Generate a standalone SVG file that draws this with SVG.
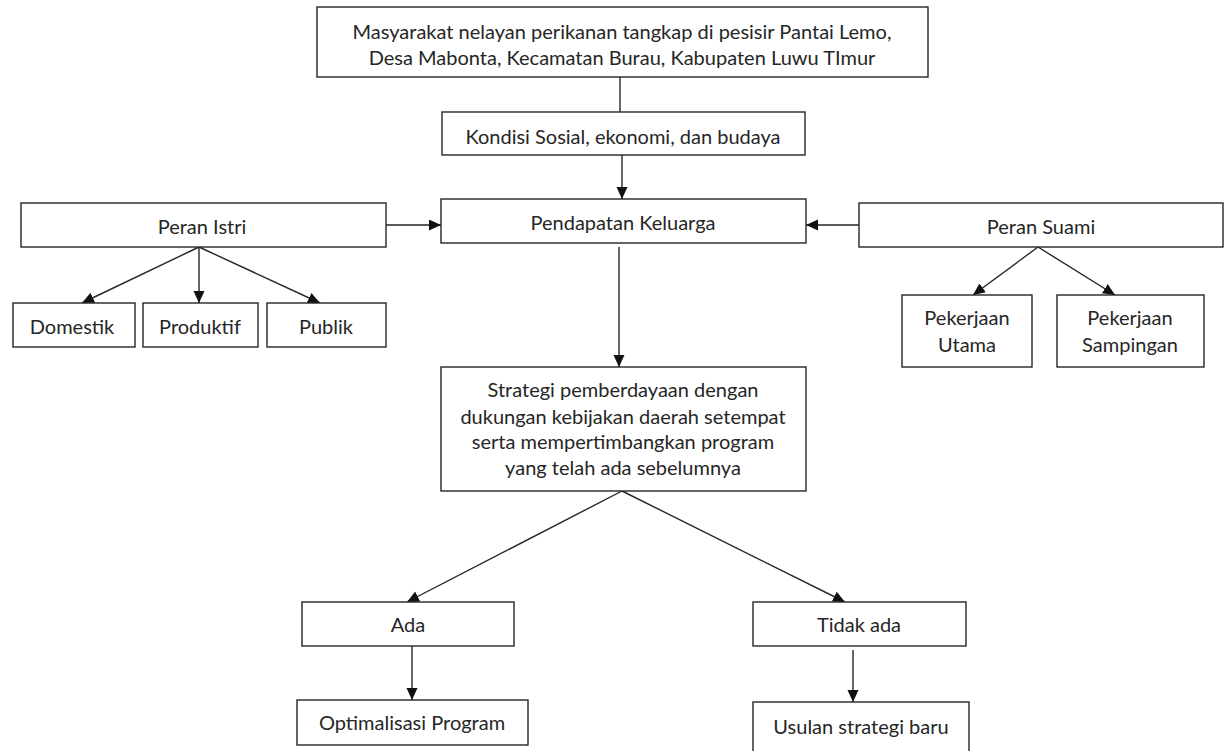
<svg xmlns="http://www.w3.org/2000/svg" width="1232" height="751" viewBox="0 0 1232 751">
<defs>
<style>
.box{fill:#fff;stroke:#262626;stroke-width:1.4}
.t{font-family:Lato,"Liberation Sans",sans-serif;font-size:20px;fill:#262626;text-anchor:middle}
.c{stroke:#262626;stroke-width:1.4;fill:none}
</style>
<marker id="ah" markerUnits="userSpaceOnUse" markerWidth="13" markerHeight="12" refX="12" refY="5.5" orient="auto">
<path d="M0,0 L12,5.5 L0,11 z" fill="#111"/>
</marker>
</defs>
<rect width="1232" height="751" fill="#fff"/>
<g id="connectors">
<line class="c" x1="620" y1="77" x2="620" y2="112"/>
<line class="c" x1="622" y1="155" x2="622" y2="199" marker-end="url(#ah)"/>
<line class="c" x1="386" y1="225" x2="441" y2="225" marker-end="url(#ah)"/>
<line class="c" x1="859" y1="225" x2="806" y2="225" marker-end="url(#ah)"/>
<line class="c" x1="619" y1="247" x2="619" y2="367" marker-end="url(#ah)"/>
<line class="c" x1="199" y1="247" x2="82" y2="303" marker-end="url(#ah)"/>
<line class="c" x1="199" y1="247" x2="199" y2="303" marker-end="url(#ah)"/>
<line class="c" x1="199" y1="247" x2="320" y2="303" marker-end="url(#ah)"/>
<line class="c" x1="1038" y1="247" x2="973" y2="295" marker-end="url(#ah)"/>
<line class="c" x1="1038" y1="247" x2="1115" y2="295" marker-end="url(#ah)"/>
<line class="c" x1="622" y1="491" x2="407" y2="602" marker-end="url(#ah)"/>
<line class="c" x1="622" y1="491" x2="845" y2="602" marker-end="url(#ah)"/>
<line class="c" x1="412" y1="646" x2="412" y2="700" marker-end="url(#ah)"/>
<line class="c" x1="853" y1="650" x2="853" y2="702" marker-end="url(#ah)"/>
</g>
<g id="masyarakat">
<rect class="box" x="317" y="7" width="611" height="70"/>
<text class="t" x="622" y="39">Masyarakat nelayan perikanan tangkap di pesisir Pantai Lemo,</text>
<text class="t" x="622" y="65">Desa Mabonta, Kecamatan Burau, Kabupaten Luwu TImur</text>
</g>
<g id="kondisi">
<rect class="box" x="442" y="112" width="363" height="43"/>
<text class="t" x="623" y="144">Kondisi Sosial, ekonomi, dan budaya</text>
</g>
<g id="pendapatan">
<rect class="box" x="441" y="199" width="365" height="44"/>
<text class="t" x="623" y="230">Pendapatan Keluarga</text>
</g>
<g id="peran-istri">
<rect class="box" x="21" y="203" width="365" height="44"/>
<text class="t" x="202" y="234">Peran Istri</text>
</g>
<g id="domestik">
<rect class="box" x="13" y="303" width="122" height="44"/>
<text class="t" x="72" y="334">Domestik</text>
</g>
<g id="produktif">
<rect class="box" x="143" y="303" width="115" height="44"/>
<text class="t" x="200" y="334">Produktif</text>
</g>
<g id="publik">
<rect class="box" x="267" y="303" width="119" height="44"/>
<text class="t" x="326" y="334">Publik</text>
</g>
<g id="peran-suami">
<rect class="box" x="859" y="203" width="364" height="44"/>
<text class="t" x="1041" y="234">Peran Suami</text>
</g>
<g id="pekerjaan-utama">
<rect class="box" x="902" y="295" width="130" height="72"/>
<text class="t" x="967" y="325">Pekerjaan</text>
<text class="t" x="967" y="352">Utama</text>
</g>
<g id="pekerjaan-sampingan">
<rect class="box" x="1057" y="295" width="147" height="72"/>
<text class="t" x="1130" y="325">Pekerjaan</text>
<text class="t" x="1130" y="352">Sampingan</text>
</g>
<g id="strategi">
<rect class="box" x="441" y="367" width="365" height="124"/>
<text class="t" x="623" y="397">Strategi pemberdayaan dengan</text>
<text class="t" x="623" y="424">dukungan kebijakan daerah setempat</text>
<text class="t" x="623" y="449">serta mempertimbangkan program</text>
<text class="t" x="623" y="475">yang telah ada sebelumnya</text>
</g>
<g id="ada">
<rect class="box" x="302" y="602" width="212" height="44"/>
<text class="t" x="408" y="632">Ada</text>
</g>
<g id="optimalisasi">
<rect class="box" x="297" y="700" width="231" height="45"/>
<text class="t" x="412" y="730">Optimalisasi Program</text>
</g>
<g id="tidak-ada">
<rect class="box" x="753" y="602" width="213" height="44"/>
<text class="t" x="859" y="632">Tidak ada</text>
</g>
<g id="usulan">
<rect class="box" x="753" y="702" width="216" height="60"/>
<text class="t" x="861" y="734">Usulan strategi baru</text>
</g>
</svg>
